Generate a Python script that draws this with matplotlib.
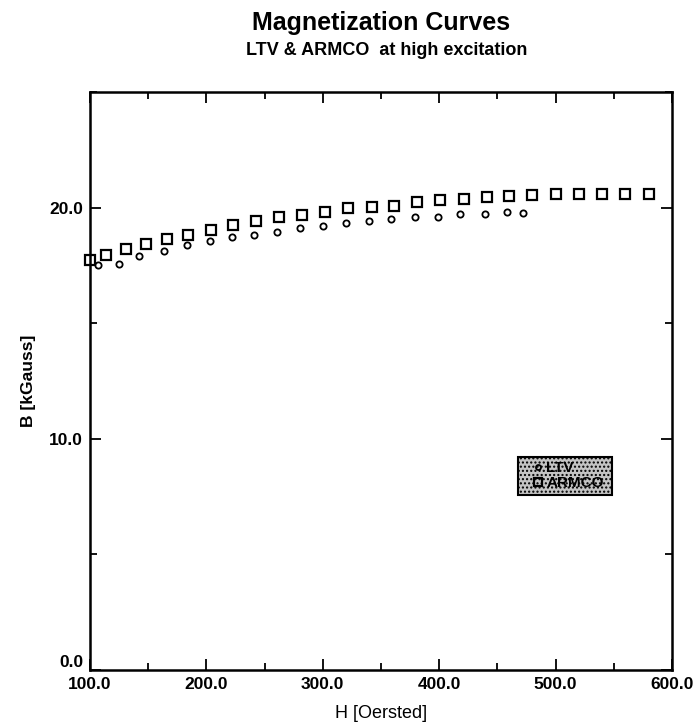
import matplotlib
matplotlib.use("Agg")
import matplotlib.pyplot as plt
from matplotlib.patches import Rectangle
from matplotlib.ticker import MultipleLocator, FormatStrFormatter
import matplotlib.transforms as mtransforms

plt.rcParams['font.family'] = ['Liberation Sans', 'DejaVu Sans']

# ARMCO (squares)
armco_h = [100, 114, 131, 148, 166, 184, 204, 223, 243, 262, 282, 302, 322,
           342, 361, 381, 401, 421, 441, 460, 480, 500, 520, 540, 560, 580]
armco_b = [17.75, 17.94, 18.22, 18.43, 18.62, 18.81, 19.05, 19.23, 19.42,
           19.57, 19.67, 19.81, 19.96, 20.04, 20.08, 20.26, 20.33, 20.36,
           20.46, 20.48, 20.54, 20.58, 20.58, 20.58, 20.58, 20.60]

# LTV (circles)
ltv_h = [107, 125, 142, 164, 183, 203, 222, 241, 261, 280, 300, 320, 340,
         359, 379, 399, 418, 439, 458, 472]
ltv_b = [17.51, 17.58, 17.90, 18.14, 18.36, 18.55, 18.73, 18.81, 18.96,
         19.10, 19.20, 19.35, 19.42, 19.49, 19.57, 19.60, 19.71, 19.74,
         19.81, 19.78]

title = "Magnetization Curves"
subtitle = "LTV & ARMCO  at high excitation"
xlabel = "H [Oersted]"
ylabel = "B [kGauss]"
series_labels = ["LTV", "ARMCO"]

fig = plt.figure(figsize=(6.97, 7.28), dpi=100)
ax = fig.add_axes([0.1291, 0.0797, 0.835, 0.794])

h_armco, = ax.plot(armco_h, armco_b, linestyle='none', marker='s', markersize=7.5,
                   markerfacecolor='none', markeredgecolor='black', markeredgewidth=1.6,
                   clip_on=False, zorder=3, label=series_labels[1])
h_ltv, = ax.plot(ltv_h, ltv_b, linestyle='none', marker='o', markersize=4.5,
                 markerfacecolor='none', markeredgecolor='black', markeredgewidth=1.3,
                 clip_on=False, zorder=3, label=series_labels[0])

ax.set_xlim(100, 600)
ax.set_ylim(0, 25)
ax.xaxis.set_major_locator(MultipleLocator(100))
ax.xaxis.set_minor_locator(MultipleLocator(50))
ax.yaxis.set_major_locator(MultipleLocator(10))
ax.yaxis.set_minor_locator(MultipleLocator(5))
ax.xaxis.set_major_formatter(FormatStrFormatter('%.1f'))
ax.yaxis.set_major_formatter(FormatStrFormatter('%.1f'))

ax.tick_params(which='both', direction='in', top=True, right=True,
               width=1.3, color='black')
ax.tick_params(which='major', length=8, labelsize=12.5, pad=5)
ax.tick_params(which='minor', length=5)
for sp in ax.spines.values():
    sp.set_linewidth(1.8)

ax.set_xlabel(xlabel, fontsize=13)
ax.xaxis.set_label_coords(0.5, -0.06)
ax.set_ylabel(ylabel, fontsize=12.5, fontweight='bold')
ax.yaxis.set_label_coords(-0.093, 0.5)

fig.text(0.547, 0.969, title, ha='center', va='center', fontsize=18,
         fontweight='bold')
fig.text(0.555, 0.931, subtitle, ha='center', va='center', fontsize=13,
         fontweight='bold')

# legend box (stippled gray) with legend entries on top
ax.add_patch(Rectangle((0.735, 0.303), 0.162, 0.066, transform=ax.transAxes,
                       facecolor='#c4c4c4', edgecolor='black', linewidth=1.5,
                       hatch='....', zorder=4))
leg = ax.legend(handles=[h_ltv, h_armco], loc='center',
                bbox_to_anchor=(0.822, 0.336), frameon=False,
                prop={'weight': 'bold', 'size': 11}, handlelength=0.7,
                handletextpad=0.15, labelspacing=0.05, borderpad=0.0,
                borderaxespad=0.0, markerscale=0.8)
leg.set_zorder(5)

fig.canvas.draw()
for lbl in ax.get_xticklabels() + ax.get_yticklabels():
    lbl.set_fontweight('bold')
for tk in ax.yaxis.get_major_ticks():
    if abs(tk.get_loc()) < 1e-9:
        lab = tk.label1
        lab.set_transform(lab.get_transform() +
                          mtransforms.ScaledTranslation(0, 9 / 100, fig.dpi_scale_trans))

fig.savefig("out.png", dpi=100)
